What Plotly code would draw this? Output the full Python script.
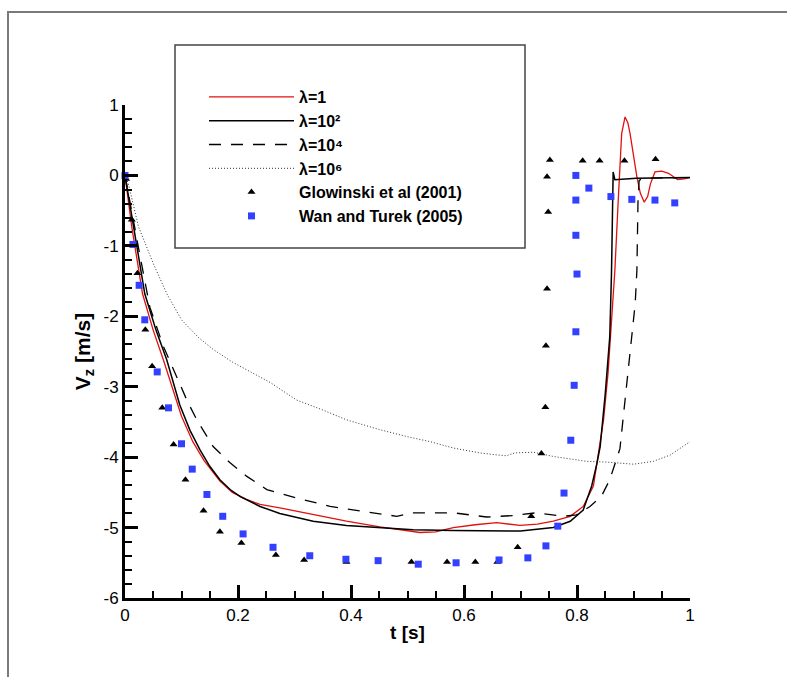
import plotly.graph_objects as go

# ---------------- data ----------------
t_l1 = [0, 0.012, 0.031, 0.050, 0.068, 0.083, 0.100, 0.120, 0.140, 0.168, 0.190, 0.215, 0.239, 0.274,
        0.333, 0.392, 0.451, 0.510, 0.522, 0.550, 0.581, 0.620, 0.658, 0.699, 0.730, 0.758, 0.788, 0.811,
        0.829, 0.838, 0.847, 0.855, 0.861, 0.867, 0.873, 0.879, 0.885, 0.890, 0.894, 0.900, 0.906, 0.912,
        0.919, 0.925, 0.930, 0.938, 0.950, 0.962, 0.970, 0.978, 0.990, 1.0]
v_l1 = [0, -0.73, -1.68, -2.20, -2.62, -3.00, -3.42, -3.78, -4.05, -4.34, -4.50, -4.60, -4.67, -4.72,
        -4.82, -4.91, -4.99, -5.05, -5.07, -5.06, -5.00, -4.96, -4.93, -4.97, -4.95, -4.91, -4.84, -4.70,
        -4.41, -3.94, -3.47, -2.80, -2.10, -1.35, -0.35, 0.59, 0.83, 0.75, 0.59, 0.25, -0.02, -0.25,
        -0.38, -0.30, -0.12, 0.05, 0.06, 0.03, -0.02, -0.06, -0.05, -0.03]

t_l2 = [0, 0.015, 0.035, 0.055, 0.074, 0.097, 0.115, 0.133, 0.150, 0.168, 0.186, 0.204, 0.239, 0.274,
        0.333, 0.392, 0.451, 0.510, 0.580, 0.640, 0.700, 0.758, 0.788, 0.811, 0.826, 0.835, 0.841, 0.850,
        0.858, 0.861, 0.864, 0.867, 0.905, 1.0]
v_l2 = [0, -0.73, -1.68, -2.20, -2.62, -3.26, -3.62, -3.90, -4.13, -4.32, -4.46, -4.56, -4.70, -4.80,
        -4.91, -4.97, -5.00, -5.03, -5.04, -5.05, -5.05, -5.00, -4.91, -4.75, -4.41, -4.10, -3.85, -3.10,
        -2.29, -1.40, 0.05, -0.06, -0.04, -0.03]

t_l4 = [0, 0.009, 0.027, 0.044, 0.068, 0.091, 0.110, 0.127, 0.156, 0.186, 0.215, 0.251, 0.304, 0.363,
        0.422, 0.481, 0.510, 0.540, 0.581, 0.640, 0.687, 0.728, 0.776, 0.799, 0.823, 0.843, 0.858, 0.876,
        0.888, 0.897, 0.903, 0.906, 0.908, 0.910, 0.917, 1.0]
v_l4 = [0, -0.40, -1.16, -1.87, -2.43, -2.85, -3.20, -3.47, -3.85, -4.08, -4.27, -4.46, -4.58, -4.70,
        -4.77, -4.84, -4.79, -4.79, -4.79, -4.85, -4.83, -4.79, -4.84, -4.82, -4.70, -4.56, -4.32, -3.88,
        -3.00, -2.29, -1.82, -1.35, -0.35, -0.07, -0.04, -0.03]

t_l6 = [0, 0.006, 0.024, 0.050, 0.074, 0.100, 0.130, 0.156, 0.190, 0.227, 0.257, 0.304, 0.350, 0.392,
        0.451, 0.500, 0.540, 0.581, 0.628, 0.660, 0.675, 0.690, 0.723, 0.758, 0.790, 0.817, 0.852, 0.900,
        0.935, 0.965, 1.0]
v_l6 = [0, -0.12, -0.73, -1.25, -1.68, -2.05, -2.30, -2.47, -2.65, -2.81, -2.94, -3.19, -3.33, -3.47,
        -3.61, -3.71, -3.78, -3.87, -3.94, -3.97, -3.98, -3.94, -3.93, -3.99, -4.03, -4.06, -4.07, -4.10,
        -4.06, -3.97, -3.78]

t_glow = [0.002, 0.012, 0.022, 0.036, 0.048, 0.066, 0.086, 0.107, 0.139, 0.168, 0.206, 0.267, 0.317,
          0.392, 0.507, 0.570, 0.620, 0.659, 0.695, 0.719, 0.737, 0.744, 0.745, 0.747, 0.749, 0.747,
          0.752, 0.810, 0.840, 0.884, 0.939]
v_glow = [-0.05, -0.63, -1.39, -2.19, -2.71, -3.30, -3.82, -4.32, -4.76, -5.06, -5.22, -5.39, -5.46,
          -5.49, -5.49, -5.49, -5.49, -5.49, -5.28, -4.84, -3.95, -3.29, -2.42, -1.61, -0.52, -0.02,
          0.22, 0.21, 0.21, 0.21, 0.23]

t_wan = [0.0, 0.014, 0.025, 0.035, 0.057, 0.077, 0.100, 0.119, 0.145, 0.173, 0.209, 0.262, 0.327, 0.391,
         0.448, 0.519, 0.586, 0.662, 0.713, 0.745, 0.766, 0.777, 0.789, 0.795, 0.798, 0.800, 0.798, 0.798,
         0.798, 0.821, 0.860, 0.897, 0.938, 0.973]
v_wan = [0.0, -0.98, -1.56, -2.05, -2.79, -3.30, -3.81, -4.17, -4.53, -4.84, -5.09, -5.28, -5.40, -5.45,
         -5.47, -5.52, -5.50, -5.46, -5.43, -5.26, -4.98, -4.51, -3.76, -2.98, -2.22, -1.40, -0.85, -0.35,
         0.0, -0.18, -0.30, -0.34, -0.35, -0.39]

series_names = ["λ=1", "λ=10²", "λ=10⁴", "λ=10⁶", "Glowinski et al (2001)", "Wan and Turek (2005)"]

x_ticks = [0, 0.2, 0.4, 0.6, 0.8, 1]
y_ticks = [1, 0, -1, -2, -3, -4, -5, -6]

# ---------------- figure ----------------
FONT = "Liberation Sans, Arial, Helvetica, sans-serif"
fig = go.Figure()

fig.add_trace(go.Scatter(x=t_l1, y=v_l1, mode="lines", name=series_names[0],
                         line=dict(color="#e31010", width=1.3)))
fig.add_trace(go.Scatter(x=t_l2, y=v_l2, mode="lines", name=series_names[1],
                         line=dict(color="black", width=1.5)))
fig.add_trace(go.Scatter(x=t_l4, y=v_l4, mode="lines", name=series_names[2],
                         line=dict(color="black", width=1.3, dash="12px,10px")))
fig.add_trace(go.Scatter(x=t_l6, y=v_l6, mode="lines", name=series_names[3],
                         line=dict(color="#333333", width=1, dash="1px,2px")))
fig.add_trace(go.Scatter(x=t_glow, y=v_glow, mode="markers", name=series_names[4],
                         marker=dict(symbol="triangle-up", color="black", size=7),
                         cliponaxis=False))
fig.add_trace(go.Scatter(x=t_wan, y=v_wan, mode="markers", name=series_names[5],
                         marker=dict(symbol="square", color="#3340ff", size=7),
                         cliponaxis=False))

axis_common = dict(showgrid=False, zeroline=False, showline=True, linecolor="black", linewidth=3,
                   ticks="inside", ticklen=13, tickwidth=3, tickcolor="black",
                   tickfont=dict(family=FONT, size=17, color="black"), mirror=False)

fig.update_xaxes(range=[0, 1], tickvals=x_ticks, ticktext=[str(v) for v in x_ticks],
                 minor=dict(ticks="inside", ticklen=7, tickwidth=1.5, tickcolor="black", dtick=0.05,
                            showgrid=False),
                 title=dict(text="t [s]", font=dict(family=FONT, size=19, color="black", weight="bold"),
                            standoff=2),
                 **axis_common)
fig.update_yaxes(range=[-6, 1], tickvals=y_ticks, ticktext=[str(v) for v in y_ticks],
                 minor=dict(ticks="inside", ticklen=7, tickwidth=1.5, tickcolor="black", dtick=0.2,
                            showgrid=False),
                 title=dict(text="V<sub>z</sub> [m/s]",
                            font=dict(family=FONT, size=21, color="black", weight="bold"), standoff=8),
                 **axis_common)

def px_x(p):
    return (p - 125) / 565.0

def px_y(p):
    return (598 - p) / 493.0

shapes = [
    # outer frame
    dict(type="rect", xref="paper", yref="paper", x0=px_x(8), x1=px_x(830), y0=px_y(720), y1=px_y(12),
         line=dict(color="#7a7a7a", width=2), fillcolor="rgba(0,0,0,0)", layer="below"),
    # legend box
    dict(type="rect", xref="paper", yref="paper", x0=px_x(175), x1=px_x(525), y0=px_y(248), y1=px_y(45),
         line=dict(color="#444444", width=1.5), fillcolor="white", layer="above"),
]

fig.update_layout(
    width=787, height=677,
    margin=dict(l=125, r=97, t=105, b=79),
    paper_bgcolor="white", plot_bgcolor="white",
    shapes=shapes,
    showlegend=True,
    legend=dict(x=px_x(204), y=px_y(80), xanchor="left", yanchor="top",
                bgcolor="rgba(0,0,0,0)", borderwidth=0, itemwidth=85, tracegroupgap=0,
                font=dict(family=FONT, size=16, color="black", weight="bold")),
)

fig.write_html("out.html")
